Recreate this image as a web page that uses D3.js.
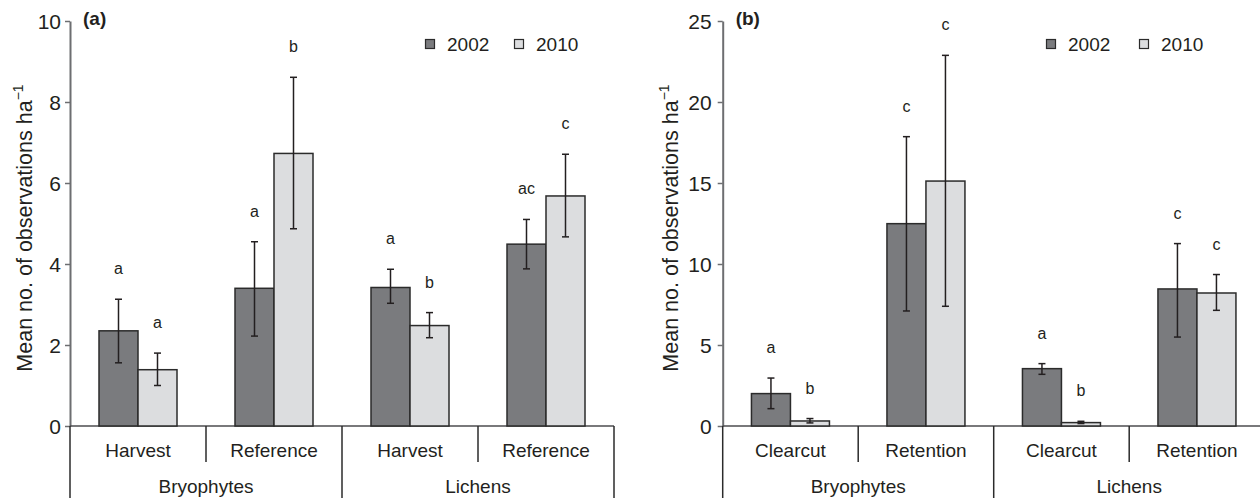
<!DOCTYPE html>
<html><head><meta charset="utf-8">
<script src="https://cdn.jsdelivr.net/npm/d3@7/dist/d3.min.js"></script>
<style>
body{margin:0;background:#fff;}
svg{display:block;font-family:"Liberation Sans",Arial,sans-serif;}
</style></head>
<body><svg id="chart" width="1260" height="499"></svg>
<script>
// ---- data ----
const years = ["2002", "2010"];
const groups = ["Bryophytes", "Lichens"];

// Panel (a)
const catsA = ["Harvest", "Reference", "Harvest", "Reference"];
const meanA2002 = [2.35, 3.40, 3.42, 4.49];
const lowA2002  = [1.56, 2.22, 3.03, 3.88];
const highA2002 = [3.13, 4.55, 3.87, 5.10];
const meanA2010 = [1.39, 6.73, 2.48, 5.68];
const lowA2010  = [1.00, 4.87, 2.18, 4.67];
const highA2010 = [1.80, 8.61, 2.80, 6.71];
const letA2002 = ["a", "a", "a", "ac"];
const letA2010 = ["a", "b", "b", "c"];
const ticksA = [0, 2, 4, 6, 8, 10];

// Panel (b)
const catsB = ["Clearcut", "Retention", "Clearcut", "Retention"];
const meanB2002 = [2.00, 12.49, 3.54, 8.46];
const lowB2002  = [1.07, 7.10, 3.19, 5.49];
const highB2002 = [2.96, 17.86, 3.85, 11.26];
const meanB2010 = [0.31, 15.12, 0.21, 8.21];
const lowB2010  = [0.19, 7.39, 0.15, 7.14];
const highB2010 = [0.46, 22.88, 0.29, 9.35];
const letB2002 = ["a", "c", "a", "c"];
const letB2010 = ["b", "c", "b", "c"];
const ticksB = [0, 5, 10, 15, 20, 25];

const colors = {"2002": "#7a7b7e", "2010": "#dcdddf"};
const ink = "#231f20";

const svg = d3.select("#chart");

function panel(opt) {
  const g = svg.append("g");
  const y = d3.scaleLinear().domain([0, opt.ymax]).range([426, 21]);
  const x = d3.scaleBand().domain(d3.range(4)).range([opt.x0, opt.x0 + 4 * opt.bw]).padding(0);
  const xi = d3.scaleBand().domain(years).range([-39, 39]).padding(0);

  // y axis
  const ax = g.append("g").attr("transform", `translate(${opt.x0},0)`)
    .call(d3.axisLeft(y).tickValues(opt.ticks).tickSize(5).tickPadding(opt.tickPad).tickSizeOuter(0));
  ax.select(".domain").attr("stroke", "#6d6e71").attr("stroke-width", 2);
  ax.selectAll(".tick line").attr("stroke", "#6d6e71").attr("stroke-width", 1.5);
  ax.selectAll(".tick text").attr("font-size", 21).attr("fill", ink)
    .attr("font-family", "Liberation Sans, Arial, sans-serif").attr("dy", "0.36em");

  // baseline
  g.append("line").attr("x1", opt.x0).attr("x2", Math.min(1262, opt.x0 + 4 * opt.bw))
    .attr("y1", y(0)).attr("y2", y(0)).attr("stroke", "#4d4d4f").attr("stroke-width", 1.5);

  // separators
  for (let i = 0; i <= 4; i++) {
    const xx = opt.x0 + i * opt.bw;
    g.append("line").attr("x1", xx).attr("x2", xx).attr("y1", y(0))
      .attr("y2", i % 2 === 0 ? 498 : 462).attr("stroke", "#2b2b2b").attr("stroke-width", 1.5);
  }

  // bars
  const series = [
    {year: "2002", mean: opt.m2002, lo: opt.l2002, hi: opt.h2002, lab: opt.t2002},
    {year: "2010", mean: opt.m2010, lo: opt.l2010, hi: opt.h2010, lab: opt.t2010}
  ];
  series.forEach(s => {
    s.mean.forEach((v, i) => {
      const cx = x(i) + x.bandwidth() / 2;
      const bx = cx + xi(s.year);
      g.append("rect").attr("x", bx).attr("y", y(v)).attr("width", xi.bandwidth())
        .attr("height", y(0) - y(v)).attr("fill", colors[s.year])
        .attr("stroke", "#2b2b2b").attr("stroke-width", 1.5);
      const ex = bx + xi.bandwidth() / 2;
      g.append("line").attr("x1", ex).attr("x2", ex).attr("y1", y(s.hi[i])).attr("y2", y(s.lo[i]))
        .attr("stroke", ink).attr("stroke-width", 1.5);
      [s.hi[i], s.lo[i]].forEach(e => {
        g.append("line").attr("x1", ex - 3.5).attr("x2", ex + 3.5).attr("y1", y(e)).attr("y2", y(e))
          .attr("stroke", ink).attr("stroke-width", 1.5);
      });
      g.append("text").attr("x", ex).attr("y", y(s.hi[i]) - 25).attr("text-anchor", "middle")
        .attr("font-size", 16).attr("fill", ink).text(s.lab[i]);
    });
  });

  // category labels
  opt.cats.forEach((c, i) => {
    g.append("text").attr("x", x(i) + x.bandwidth() / 2).attr("y", 457).attr("text-anchor", "middle")
      .attr("font-size", 19).attr("fill", ink).text(c);
  });
  groups.forEach((gr, j) => {
    g.append("text").attr("x", opt.x0 + (2 * j + 1) * opt.bw).attr("y", 493).attr("text-anchor", "middle")
      .attr("font-size", 19).attr("fill", ink).text(gr);
  });

  // panel tag
  g.append("text").attr("x", opt.x0 + 13).attr("y", 25).attr("font-size", 19).attr("font-weight", "bold")
    .attr("fill", ink).text(opt.tag);

  // y title
  const t = g.append("text").attr("transform", `translate(${opt.titleX},228) rotate(-90)`)
    .attr("text-anchor", "middle").attr("font-size", 21.5).attr("fill", ink);
  t.append("tspan").text("Mean no. of observations ha");
  t.append("tspan").attr("font-size", 14).attr("dy", -9).text("−1");

  // legend
  years.forEach((yr, k) => {
    const lx = opt.legX[k];
    g.append("rect").attr("x", lx).attr("y", 39.5).attr("width", 9).attr("height", 9)
      .attr("fill", colors[yr]).attr("stroke", "#2b2b2b").attr("stroke-width", 1.2);
    g.append("text").attr("x", lx + 21.5).attr("y", 50.5).attr("font-size", 19).attr("fill", ink).text(yr);
  });
}

panel({x0: 70, bw: 136, ymax: 10, ticks: ticksA, cats: catsA, tickPad: 4,
  m2002: meanA2002, l2002: lowA2002, h2002: highA2002,
  m2010: meanA2010, l2010: lowA2010, h2010: highA2010,
  t2002: letA2002, t2010: letA2010, tag: "(a)", titleX: 32, legX: [425.5, 514.5]});

panel({x0: 722.7, bw: 135.5, ymax: 25, ticks: ticksB, cats: catsB, tickPad: 6,
  m2002: meanB2002, l2002: lowB2002, h2002: highB2002,
  m2010: meanB2010, l2010: lowB2010, h2010: highB2010,
  t2002: letB2002, t2010: letB2010, tag: "(b)", titleX: 678, legX: [1046.5, 1139.5]});
</script>
</body></html>
